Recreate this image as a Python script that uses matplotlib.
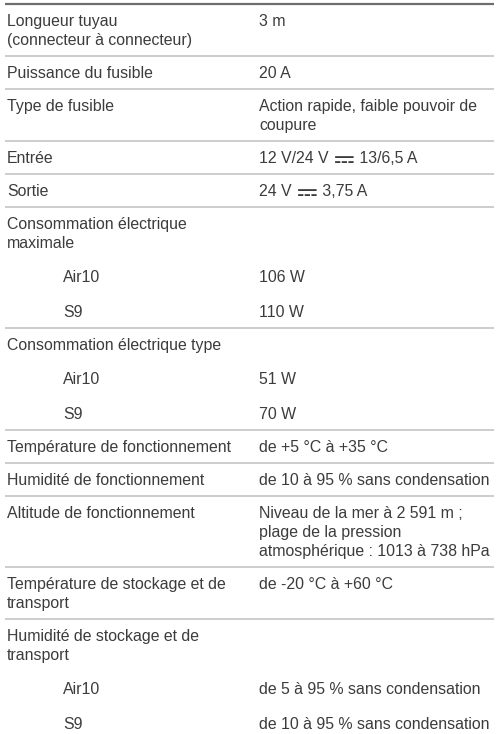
import matplotlib
matplotlib.use('Agg')
import matplotlib.pyplot as plt
from matplotlib import font_manager
from matplotlib.ft2font import FT2Font

# table content: (label, value, sub-rows)
labels = [
    "Longueur tuyau\n(connecteur à connecteur)",
    "Puissance du fusible",
    "Type de fusible",
    "Entrée",
    "Sortie",
    "Consommation électrique\nmaximale",
    "Consommation électrique type",
    "Température de fonctionnement",
    "Humidité de fonctionnement",
    "Altitude de fonctionnement",
    "Température de stockage et de\ntransport",
    "Humidité de stockage et de\ntransport",
]
values = [
    "3 m",
    "20 A",
    "Action rapide, faible pouvoir de\ncoupure",
    "12 V/24 V \u2393 13/6,5 A",
    "24 V \u2393 3,75 A",
    "",
    "",
    "de +5 °C à +35 °C",
    "de 10 à 95 % sans condensation",
    "Niveau de la mer à 2 591 m ;\nplage de la pression\natmosphérique : 1013 à 738 hPa",
    "de -20 °C à +60 °C",
    "",
]
sub_rows = {
    5: [("Air10", "106 W"), ("S9", "110 W")],
    6: [("Air10", "51 W"), ("S9", "70 W")],
    11: [("Air10", "de 5 à 95 % sans condensation"),
         ("S9", "de 10 à 95 % sans condensation")],
}

DC = "\u2393"

# look for an installed family that has the DC symbol
dc_family = None
for f in font_manager.fontManager.ttflist:
    try:
        if ord(DC) in FT2Font(f.fname).get_charmap():
            dc_family = f.name
            break
    except Exception:
        pass

families = ['Liberation Sans', 'DejaVu Sans']
if dc_family and dc_family not in families:
    families.append(dc_family)
plt.rcParams['font.family'] = families

W, H = 498, 734
fig = plt.figure(figsize=(W / 100, H / 100), dpi=100)
ax = fig.add_axes([0, 0, 1, 1])
ax.set_xlim(0, W)
ax.set_ylim(H, 0)
ax.axis('off')

txt_col = '#3c3c3c'
fs = 11.4
x_lab, x_sub, x_val = 7, 63, 259
pad_top, line_h, pad_bot, sub_step = 17.5, 19, 15.5, 34.5
renderer = fig.canvas.get_renderer()
inv = ax.transData.inverted()


def put(x, y, s):
    if DC not in s:
        ax.text(x, y, s, fontsize=fs, color=txt_col, va='center')
        return
    head, tail = s.split(DC)
    t = ax.text(x, y, head, fontsize=fs, color=txt_col, va='center')
    x0 = t.get_window_extent(renderer).transformed(inv).x1
    if dc_family is not None:
        # the DC sign, drawn larger as in the reference
        d = ax.text(x0, y + 0.5, DC, fontsize=fs * 1.55, color=txt_col,
                    va='center', family=families)
        x1 = d.get_window_extent(renderer).transformed(inv).x1
    else:
        # no installed font has the DC sign: draw it as a small shape
        w = 20
        ax.plot([x0, x0 + w], [y - 2.5, y - 2.5], color=txt_col, lw=1.1,
                solid_capstyle='butt')
        for k in range(3):
            ax.plot([x0 + k * 7.5, x0 + k * 7.5 + 5], [y + 1.5, y + 1.5],
                    color=txt_col, lw=1.1, solid_capstyle='butt')
        x1 = x0 + w
    ax.text(x1, y, tail, fontsize=fs, color=txt_col, va='center')


y = 4
ax.hlines(y, 5, 494, color='#6e6e6e', lw=1.6)
for i, (lab, val) in enumerate(zip(labels, values)):
    ty = y + pad_top
    lab_lines = lab.split('\n')
    val_lines = val.split('\n') if val else []
    for k, s in enumerate(lab_lines):
        put(x_lab, ty + k * line_h, s)
    for k, s in enumerate(val_lines):
        put(x_val, ty + k * line_h, s)
    n = max(len(lab_lines), len(val_lines))
    last = ty + (n - 1) * line_h
    for sl, sv in sub_rows.get(i, []):
        last = last + sub_step
        put(x_sub, last, sl)
        put(x_val, last, sv)
    y = last + pad_bot
    if i < len(labels) - 1:
        ax.hlines(y, 5, 494, color='#c9c9c9', lw=1.3)

fig.savefig('out.png', dpi=100)
